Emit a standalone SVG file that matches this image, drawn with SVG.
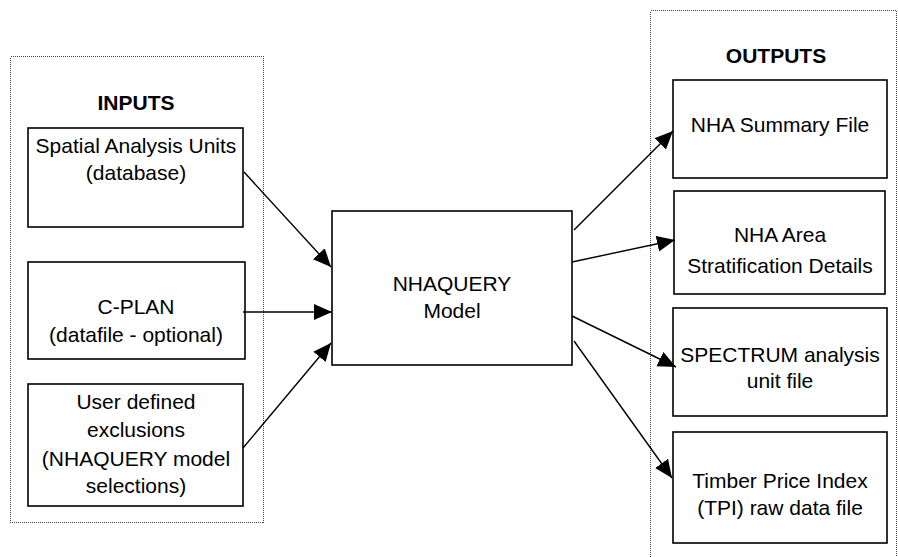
<svg xmlns="http://www.w3.org/2000/svg" width="898" height="557" viewBox="0 0 898 557">
<style>
.grp{fill:none;stroke:#444;stroke-width:1;stroke-dasharray:1 1;shape-rendering:crispEdges}
.box{fill:#fff;stroke:#000;stroke-width:1.6}
.t{font-family:"Liberation Sans",Arial,sans-serif;font-size:21px;fill:#000;text-anchor:middle}
.b{font-weight:bold}
.c{fill:none;stroke:#000;stroke-width:1.4}
</style>
<defs>
<marker id="ah" markerUnits="userSpaceOnUse" markerWidth="20" markerHeight="18" refX="18" refY="8" orient="auto">
<path d="M0,0 L18,8 L0,16 z" fill="#000"/>
</marker>
</defs>
<rect width="898" height="557" fill="#fff"/>
<g id="inputs-group">
<rect class="grp" x="10.5" y="56.5" width="253" height="466"/>
<text class="t b" x="136" y="110">INPUTS</text>
</g>
<g id="outputs-group">
<rect class="grp" x="650.5" y="10.5" width="246" height="580"/>
<text class="t b" x="776" y="63">OUTPUTS</text>
</g>
<g id="spatial">
<rect class="box" x="28" y="128" width="215" height="99"/>
<text class="t" x="136" y="153">Spatial Analysis Units</text>
<text class="t" x="136" y="180">(database)</text>
</g>
<g id="cplan">
<rect class="box" x="28" y="262" width="217" height="97"/>
<text class="t" x="136" y="314">C-PLAN</text>
<text class="t" x="136" y="342">(datafile - optional)</text>
</g>
<g id="user">
<rect class="box" x="28" y="384" width="215" height="122"/>
<text class="t" x="136" y="409">User defined</text>
<text class="t" x="136" y="437">exclusions</text>
<text class="t" x="136" y="466">(NHAQUERY model</text>
<text class="t" x="136" y="493">selections)</text>
</g>
<g id="model">
<rect class="box" x="332" y="211" width="240" height="154"/>
<text class="t" x="452" y="291">NHAQUERY</text>
<text class="t" x="452" y="318">Model</text>
</g>
<g id="summary">
<rect class="box" x="673" y="80" width="214" height="98"/>
<text class="t" x="780" y="132">NHA Summary File</text>
</g>
<g id="area">
<rect class="box" x="674" y="191" width="211" height="103"/>
<text class="t" x="780" y="242">NHA Area</text>
<text class="t" x="780" y="273">Stratification Details</text>
</g>
<g id="spectrum">
<rect class="box" x="673" y="308" width="214" height="108"/>
<text class="t" x="780" y="362">SPECTRUM analysis</text>
<text class="t" x="780" y="388">unit file</text>
</g>
<g id="tpi">
<rect class="box" x="673" y="432" width="214" height="111"/>
<text class="t" x="780" y="488">Timber Price Index</text>
<text class="t" x="780" y="515">(TPI) raw data file</text>
</g>
<g id="connectors">
<line class="c" x1="244" y1="172" x2="331" y2="267" marker-end="url(#ah)"/>
<line class="c" x1="243" y1="312" x2="332" y2="312" marker-end="url(#ah)"/>
<line class="c" x1="243" y1="448" x2="331" y2="343" marker-end="url(#ah)"/>
<line class="c" x1="574" y1="230" x2="673" y2="131" marker-end="url(#ah)"/>
<line class="c" x1="572" y1="262" x2="675" y2="240" marker-end="url(#ah)"/>
<line class="c" x1="572" y1="316" x2="676" y2="367" marker-end="url(#ah)"/>
<line class="c" x1="574" y1="341" x2="672" y2="478" marker-end="url(#ah)"/>
</g>
</svg>
